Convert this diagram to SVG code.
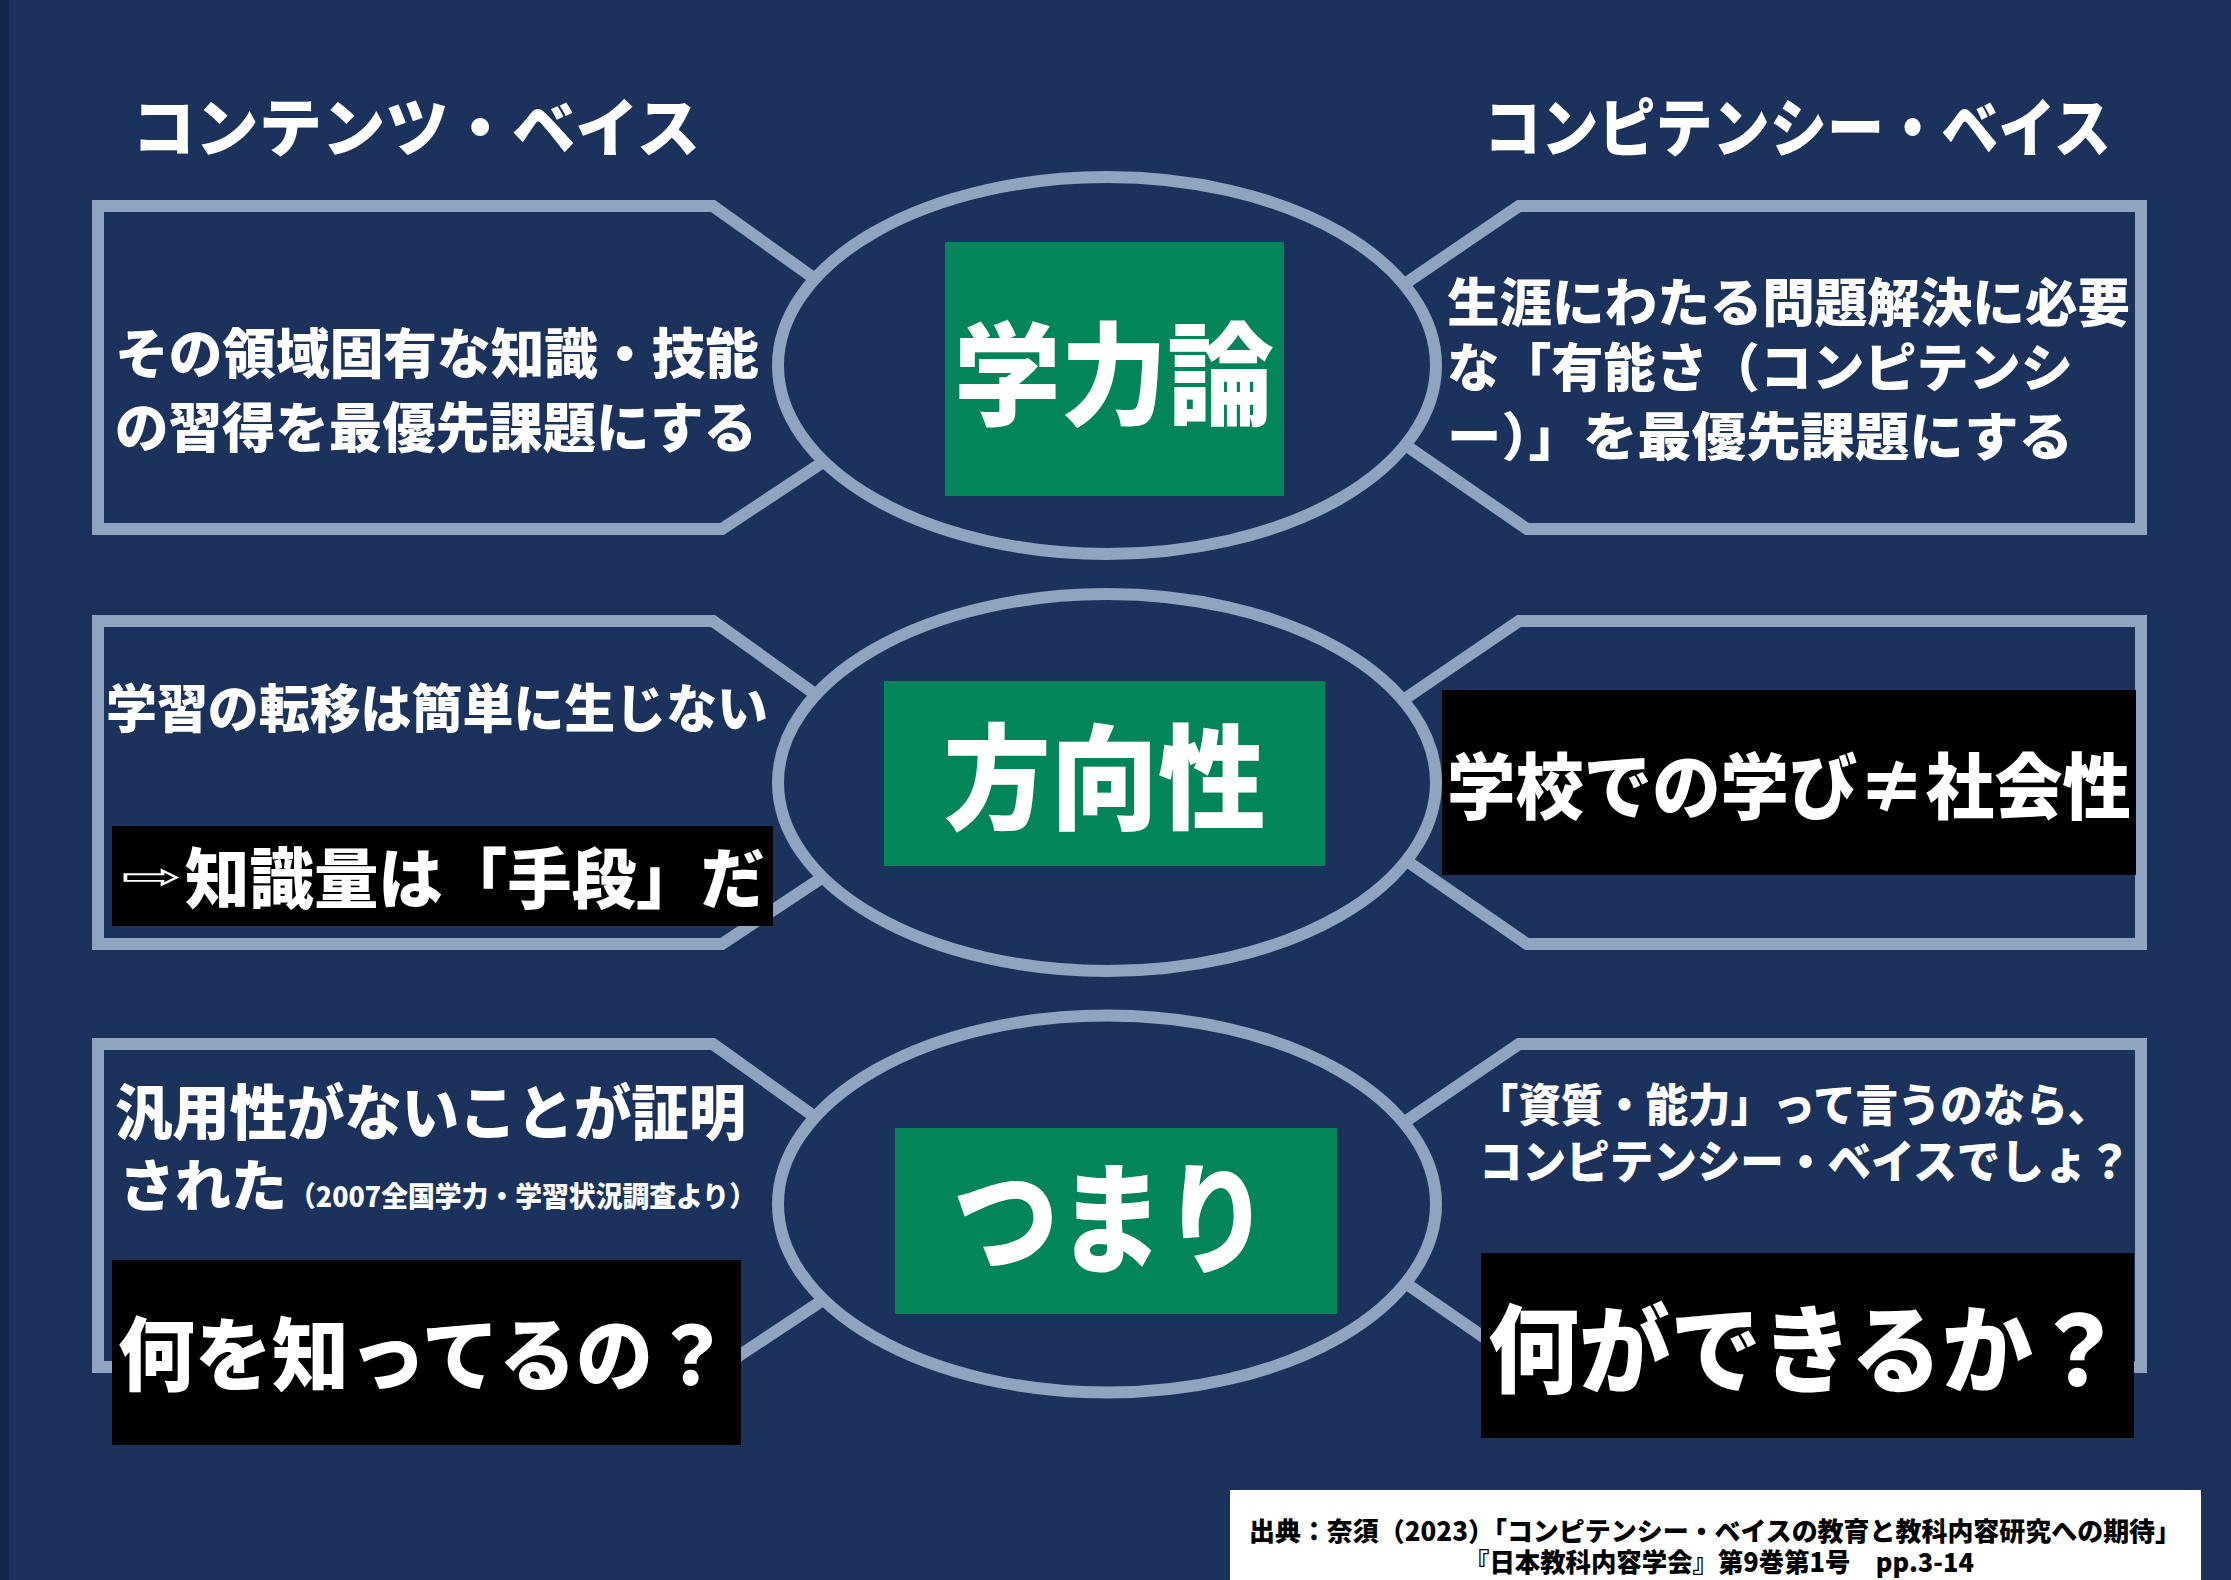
<svg xmlns="http://www.w3.org/2000/svg" width="2231" height="1580" viewBox="0 0 2231 1580">
<style>
.frame{fill:none;stroke:#8FA4BF;stroke-width:12;stroke-linejoin:miter}
.oval{fill:#1B325D;stroke:#8FA4BF;stroke-width:12}
.green{fill:#03855A}
.black{fill:#000000}
.t{font-family:"Noto Sans CJK JP","Noto Sans CJK SC",sans-serif;font-weight:900;fill:#FFFFFF}
.c{font-family:"Noto Sans CJK JP","Noto Sans CJK SC",sans-serif;font-weight:900;fill:#000000;font-size:26px}
</style>
<rect x="0" y="0" width="2231" height="1580" fill="#1B325D"/>
<rect x="0" y="0" width="9" height="1580" fill="#13264C"/>

<g id="header-content-base">
<text class="t" x="132" y="151" font-size="64" textLength="568" lengthAdjust="spacingAndGlyphs">コンテンツ・ベイス</text>
</g>
<g id="header-competency-base">
<text class="t" x="1484" y="151" font-size="64" textLength="627" lengthAdjust="spacingAndGlyphs">コンピテンシー・ベイス</text>
</g>

<g id="connectors"></g>

<!-- Row 1 -->
<g id="left-box-1">
<path class="frame" d="M850,304 L713,206 L98,206 L98,529 L722,529 L860,437.5"/>
<text class="t" x="115" y="374" font-size="54" textLength="644" lengthAdjust="spacingAndGlyphs">その領域固有な知識・技能</text>
<text class="t" x="115" y="447.5" font-size="54" textLength="642" lengthAdjust="spacingAndGlyphs">の習得を最優先課題にする</text>
</g>
<g id="right-box-1">
<path class="frame" d="M1370,307.6 L1519,206 L2141,206 L2141,529 L1527,529 L1370,420.6"/>
<text class="t" x="1447" y="322" font-size="52" textLength="683" lengthAdjust="spacingAndGlyphs">生涯にわたる問題解決に必要</text>
<text class="t" x="1447" y="387" font-size="52" textLength="626" lengthAdjust="spacingAndGlyphs">な「有能さ（コンピテンシ</text>
<text class="t" x="1447" y="456" font-size="52" textLength="626" lengthAdjust="spacingAndGlyphs">ー）」を最優先課題にする</text>
</g>
<g id="center-1">
<ellipse class="oval" cx="1107" cy="365.5" rx="329" ry="188.5"/>
<rect class="green" x="945" y="242" width="339" height="254"/>
<text class="t" x="1114" y="416.5" font-size="112" text-anchor="middle" textLength="320" lengthAdjust="spacingAndGlyphs">学力論</text>
</g>

<!-- Row 2 -->
<g id="left-box-2">
<path class="frame" transform="translate(0,415)" d="M850,304 L713,206 L98,206 L98,529 L722,529 L860,437.5"/>
<text class="t" x="106" y="728" font-size="52" textLength="662" lengthAdjust="spacingAndGlyphs">学習の転移は簡単に生じない</text>
</g>
<g id="right-box-2">
<path class="frame" transform="translate(0,415)" d="M1370,307.6 L1519,206 L2141,206 L2141,529 L1527,529 L1370,420.6"/>
</g>
<g id="center-2">
<ellipse class="oval" cx="1107" cy="782.5" rx="329" ry="188.5"/>
<rect class="green" x="884" y="681" width="441" height="185"/>
<text class="t" x="1104.5" y="820" font-size="114" text-anchor="middle" textLength="322" lengthAdjust="spacingAndGlyphs">方向性</text>
</g>
<g id="means-label">
<rect class="black" x="112" y="826" width="661" height="100"/>
<text x="121" y="889" font-family="DejaVu Sans,sans-serif" font-size="36" fill="#FFFFFF" textLength="62" lengthAdjust="spacingAndGlyphs">⇨</text>
<text class="t" x="185" y="903" font-size="66" textLength="580" lengthAdjust="spacingAndGlyphs">知識量は「手段」だ</text>
</g>
<g id="school-label">
<rect class="black" x="1442" y="690" width="694" height="185"/>
<text class="t" x="1447" y="813" font-size="72" textLength="684" lengthAdjust="spacingAndGlyphs">学校での学び≠社会性</text>
</g>

<!-- Row 3 -->
<g id="left-box-3">
<path class="frame" transform="translate(0,838)" d="M850,304 L713,206 L98,206 L98,529 L722,529 L860,437.5"/>
<text class="t" x="115" y="1135" font-size="60" textLength="631" lengthAdjust="spacingAndGlyphs">汎用性がないことが証明</text>
<text class="t" x="119" y="1206" font-size="56" textLength="168" lengthAdjust="spacingAndGlyphs">された</text>
<text class="t" x="289" y="1207" font-size="28" textLength="467" lengthAdjust="spacingAndGlyphs">（2007全国学力・学習状況調査より）</text>
</g>
<g id="right-box-3">
<path class="frame" transform="translate(0,838)" d="M1370,307.6 L1519,206 L2141,206 L2141,529 L1527,529 L1370,420.6"/>
<text class="t" x="1476" y="1121.5" font-size="45" textLength="634" lengthAdjust="spacingAndGlyphs">「資質・能力」って言うのなら、</text>
<text class="t" x="1479" y="1177.5" font-size="46" textLength="652" lengthAdjust="spacingAndGlyphs">コンピテンシー・ベイスでしょ？</text>
</g>
<g id="center-3">
<ellipse class="oval" cx="1107" cy="1204" rx="329" ry="188.5"/>
<rect class="green" x="895" y="1128" width="442" height="186"/>
<text class="t" x="1111" y="1264" font-size="120" text-anchor="middle" textLength="316" lengthAdjust="spacingAndGlyphs">つまり</text>
</g>
<g id="know-label">
<rect class="black" x="112" y="1260" width="629" height="185"/>
<text class="t" x="118" y="1384" font-size="80" textLength="612" lengthAdjust="spacingAndGlyphs">何を知ってるの？</text>
</g>
<g id="can-do-label">
<rect class="black" x="1481" y="1253" width="653" height="185"/>
<text class="t" x="1488" y="1385" font-size="96" textLength="636" lengthAdjust="spacingAndGlyphs">何ができるか？</text>
</g>

<g id="citation">
<rect x="1230" y="1490" width="971" height="90" fill="#FFFFFF"/>
<text class="c" x="1249" y="1541" textLength="932" lengthAdjust="spacingAndGlyphs">出典：奈須（2023）「コンピテンシー・ベイスの教育と教科内容研究への期待」</text>
<text class="c" x="1464" y="1572" textLength="510" lengthAdjust="spacingAndGlyphs">『日本教科内容学会』第9巻第1号　pp.3-14</text>
</g>
</svg>
